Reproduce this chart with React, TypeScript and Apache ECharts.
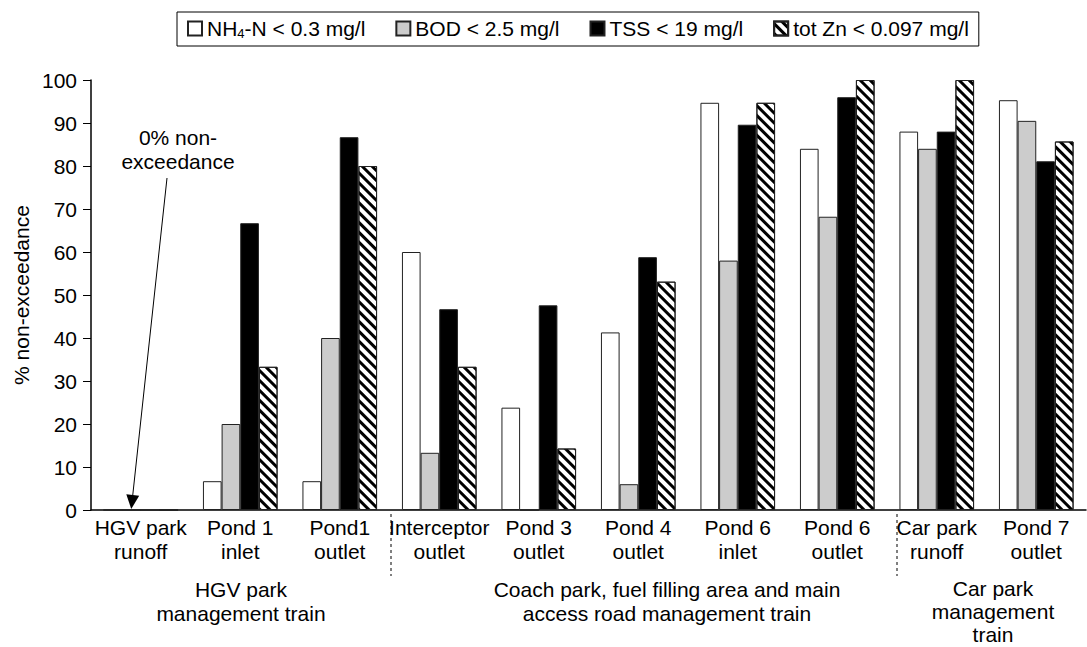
import React, { useEffect, useRef } from "react";
import * as echarts from "echarts";

const categories = [
  "HGV park\nrunoff",
  "Pond 1\ninlet",
  "Pond1\noutlet",
  "Interceptor\noutlet",
  "Pond 3\noutlet",
  "Pond 4\noutlet",
  "Pond 6\ninlet",
  "Pond 6\noutlet",
  "Car park\nrunoff",
  "Pond 7\noutlet",
];

const nh4 = [0, 6.7, 6.7, 60, 23.8, 41.3, 94.7, 84, 88, 95.3];
const bod = [0, 20, 40, 13.3, 0, 6, 58, 68.2, 84, 90.5];
const tss = [0, 66.7, 86.7, 46.7, 47.6, 58.8, 89.6, 96, 88, 81.1];
const zn = [0, 33.3, 80, 33.3, 14.3, 53.1, 94.7, 100, 100, 85.7];

const seriesNames = [
  "NH4-N < 0.3 mg/l",
  "BOD < 2.5 mg/l",
  "TSS < 19 mg/l",
  "tot Zn < 0.097 mg/l",
];

const yTicks = [0, 100, 10];
const yTitle = "% non-exceedance";

const groupLabels = [
  "HGV park\nmanagement train",
  "Coach park, fuel filling area and main\naccess road management train",
  "Car park\nmanagement\ntrain",
];

const FONT = "Liberation Sans, Arial, Helvetica, sans-serif";
const FS = 21;

export default function App() {
  const ref = useRef<HTMLDivElement>(null);
  useEffect(() => {
    if (!ref.current) return;
    const chart = echarts.init(ref.current, null, { renderer: "svg" });
    const border = { borderColor: "#222", borderWidth: 1 };
    const txt = (text: string, x: number, y: number, lh: number) => ({
      type: "text",
      x,
      y,
      style: {
        text,
        align: "center",
        verticalAlign: "top",
        font: FS + "px " + FONT,
        lineHeight: lh,
        fill: "#000",
      },
    });
    const option: any = {
      animation: false,
      backgroundColor: "#fff",
      textStyle: { fontFamily: FONT },
      legend: {
        top: 12,
        left: 177,
        borderColor: "#000",
        borderWidth: 1,
        padding: [6, 10, 6, 10],
        itemWidth: 14,
        itemHeight: 14,
        itemGap: 30,
        icon: "rect",
        textStyle: {
          fontFamily: FONT,
          fontSize: FS,
          color: "#000",
          rich: {
            a: { fontSize: FS, fontFamily: FONT, color: "#000" },
            sub: { fontSize: 13, fontFamily: FONT, color: "#000", verticalAlign: "bottom", padding: [10, 0, 0, 0] },
          },
        },
        formatter: (name: string) => {
          if (name === seriesNames[0]) return "{a|NH}{sub|4}{a|-N < 0.3 mg/l}";
          return "{a|" + name + "}";
        },
        data: seriesNames,
      },
      grid: { left: 91, right: 1, top: 80, bottom: 137 },
      xAxis: {
        type: "category",
        data: categories,
        axisLine: { lineStyle: { color: "#000", width: 1.5 } },
        axisTick: { show: false },
        axisLabel: {
          color: "#000",
          fontSize: FS,
          fontFamily: FONT,
          lineHeight: 24,
          margin: 5,
          interval: 0,
        },
      },
      yAxis: {
        type: "value",
        min: yTicks[0],
        max: yTicks[1],
        interval: yTicks[2],
        axisLine: { show: true, lineStyle: { color: "#000", width: 1.5 } },
        axisTick: { show: true, length: 8, lineStyle: { color: "#000" } },
        axisLabel: { color: "#000", fontSize: FS, fontFamily: FONT, margin: 14 },
        splitLine: { show: false },
      },
      series: [
        {
          name: seriesNames[0],
          type: "bar",
          data: nh4,
          barGap: "0%",
          barCategoryGap: "25%",
          itemStyle: { color: "#fff", ...border },
          markLine: {
            silent: true,
            symbol: ["none", "triangle"],
            symbolSize: [13, 14],
            label: { show: false },
            lineStyle: { color: "#000", width: 1, type: "solid" },
            data: [[{ x: 167, y: 178 }, { x: 132, y: 502 }]],
          },
        },
        {
          name: seriesNames[1],
          type: "bar",
          data: bod,
          itemStyle: { color: "#cccccc", ...border },
        },
        {
          name: seriesNames[2],
          type: "bar",
          data: tss,
          itemStyle: { color: "#000", ...border },
        },
        {
          name: seriesNames[3],
          type: "bar",
          data: zn,
          itemStyle: {
            color: "#fff",
            ...border,
            decal: {
              symbol: "rect",
              symbolSize: 1,
              color: "#000",
              dashArrayX: [1, 0],
              dashArrayY: [3, 4],
              rotation: Math.PI / 4,
            },
          },
        },
      ],
      graphic: [
        {
          type: "text",
          x: 21,
          y: 295,
          rotation: Math.PI / 2,
          style: {
            text: yTitle,
            align: "center",
            verticalAlign: "middle",
            font: FS + "px " + FONT,
            fill: "#000",
          },
        },
        txt("0% non-\nexceedance", 178, 125, 24),
        txt(groupLabels[0], 241, 578, 23.5),
        txt(groupLabels[1], 667, 578, 23.5),
        txt(groupLabels[2], 993, 577, 23),
        {
          type: "line",
          shape: { x1: 391, y1: 514, x2: 391, y2: 576 },
          style: { stroke: "#000", lineWidth: 1, lineDash: [3, 3] },
        },
        {
          type: "line",
          shape: { x1: 897, y1: 514, x2: 897, y2: 576 },
          style: { stroke: "#000", lineWidth: 1, lineDash: [3, 3] },
        },
      ],
    };
    chart.setOption(option);
    return () => chart.dispose();
  }, []);
  return (
    <div
      ref={ref}
      style={{ position: "fixed", left: 0, top: 0, width: 1087, height: 647, background: "#fff" }}
    />
  );
}
